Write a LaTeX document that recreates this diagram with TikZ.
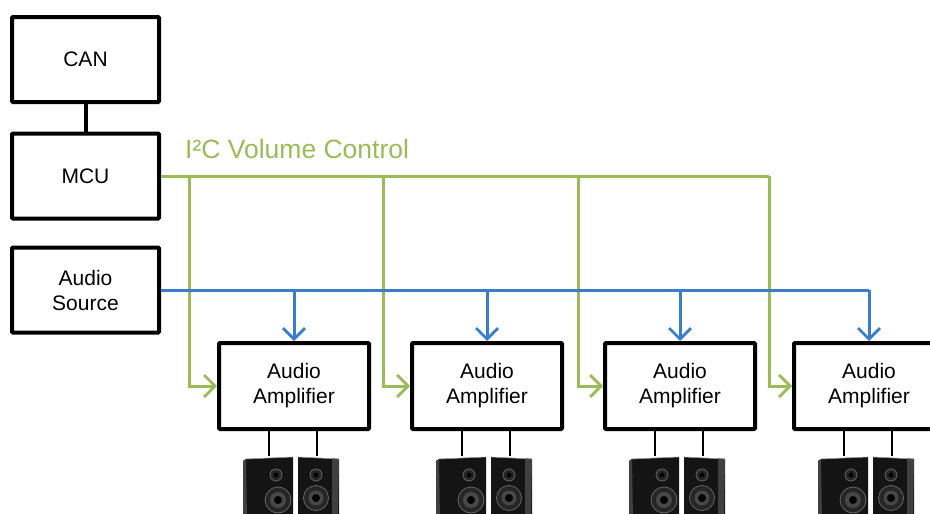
\documentclass[tikz,border=0pt]{standalone}
\usepackage{fontspec}
\setmainfont{Liberation Sans}
\usetikzlibrary{arrows.meta}
\definecolor{ctlgreen}{RGB}{155,187,89}
\definecolor{audblue}{RGB}{58,125,200}
\tikzset{
  blk/.style={draw=black, line width=4pt, fill=white, minimum width=147pt,
    minimum height=85pt, align=center, font=\fontsize{21}{25}\selectfont,
    rounded corners=1pt},
  ampbox/.style={blk, minimum width=150pt, minimum height=86pt},
  i2c/.style={draw=ctlgreen, line width=3pt},
  aud/.style={draw=audblue, line width=3pt},
  tip/.style={-{Straight Barb[length=11pt,width=22pt,line width=2.8pt]}},
  wire/.style={draw=black, line width=2.6pt},
  driver/.style={fill=black!85, draw=black!60, line width=0.8pt},
  pics/speakerpair/.style={code={
    % left cabinet (turned slightly left)
    \fill[black!92] (-26,2) -- (-23,0) -- (24,-2) -- (24,60) -- (-22,60) -- cycle;
    \fill[black!75] (-26,2) -- (-23,0) -- (-22,60) -- (-26,60) -- cycle;
    \draw[white!60!black, line width=0.6pt] (-23,0) -- (24,-2);
    \path[driver] (7,16) circle (6pt);
    \fill[black] (7,16) circle (2.5pt);
    \path[driver] (9,41) circle (13pt);
    \fill[black!72] (9,41) circle (8pt);
    \fill[black] (9,41) circle (4pt);
    % right cabinet (turned slightly right)
    \fill[black!92] (29,-2) -- (70,0) -- (70,60) -- (29,60) -- cycle;
    \fill[black!75] (63,-1) -- (70,0) -- (69,60) -- (63,60) -- cycle;
    \draw[white!60!black, line width=0.6pt] (29,-2) -- (70,0);
    \path[driver] (47,16) circle (6pt);
    \fill[black] (47,16) circle (2.5pt);
    \path[driver] (47,39) circle (12.5pt);
    \fill[black!72] (47,39) circle (7.5pt);
    \fill[black] (47,39) circle (4pt);
  }}
}
\begin{document}
\begin{tikzpicture}[x=1pt,y=-1pt]
\useasboundingbox (0,0) rectangle (930,514);

% control side
\node[blk] (can) at (85.5,59.5) {CAN};
\node[blk] (mcu) at (85.5,176) {MCU};
\node[blk] (src) at (85.5,290) {Audio\\Source};
\draw[line width=4pt] (can.south) -- (mcu.north);

% amplifiers
\node[ampbox] (amp1) at (294,386) {Audio\\Amplifier};
\node[ampbox] (amp2) at (487,386) {Audio\\Amplifier};
\node[ampbox] (amp3) at (680,386) {Audio\\Amplifier};
\node[ampbox] (amp4) at (869,386) {Audio\\Amplifier};

% I2C bus taps
\coordinate (g1) at (189,176);
\coordinate (g2) at (383,176);
\coordinate (g3) at (578,176);
\coordinate (g4) at (769,176);

\node[anchor=base west, text=ctlgreen, inner sep=0pt,
  font=\fontsize{26.5}{30}\selectfont] (lbl) at (185,158) {I²C Volume Control};

\draw[i2c] (mcu.east) -- (g4);
\foreach \k in {1,...,4}{
  \draw[i2c,tip] (g\k) |- (amp\k.west);
}

% audio bus
\coordinate (b4) at (amp4.north |- src.east);
\draw[aud] (src.east) -- (b4);
\foreach \k in {1,...,4}{
  \coordinate (b\k) at (amp\k.north |- src.east);
  \draw[aud,tip] (b\k) -- (amp\k.north);
}

% speakers under each amplifier
\foreach \k in {1,...,4}{
  \coordinate (sa\k) at ([xshift=-25pt]amp\k.south);
  \coordinate (sb\k) at ([xshift=23pt]amp\k.south);
  \coordinate (ta\k) at ([xshift=-25pt,yshift=-25pt]amp\k.south);
  \coordinate (tb\k) at ([xshift=23pt,yshift=-25pt]amp\k.south);
  \draw[wire] (sa\k) -- (ta\k);
  \draw[wire] (sb\k) -- (tb\k);
  \pic at ([yshift=-3pt]ta\k) {speakerpair};
}
\end{tikzpicture}
\end{document}
